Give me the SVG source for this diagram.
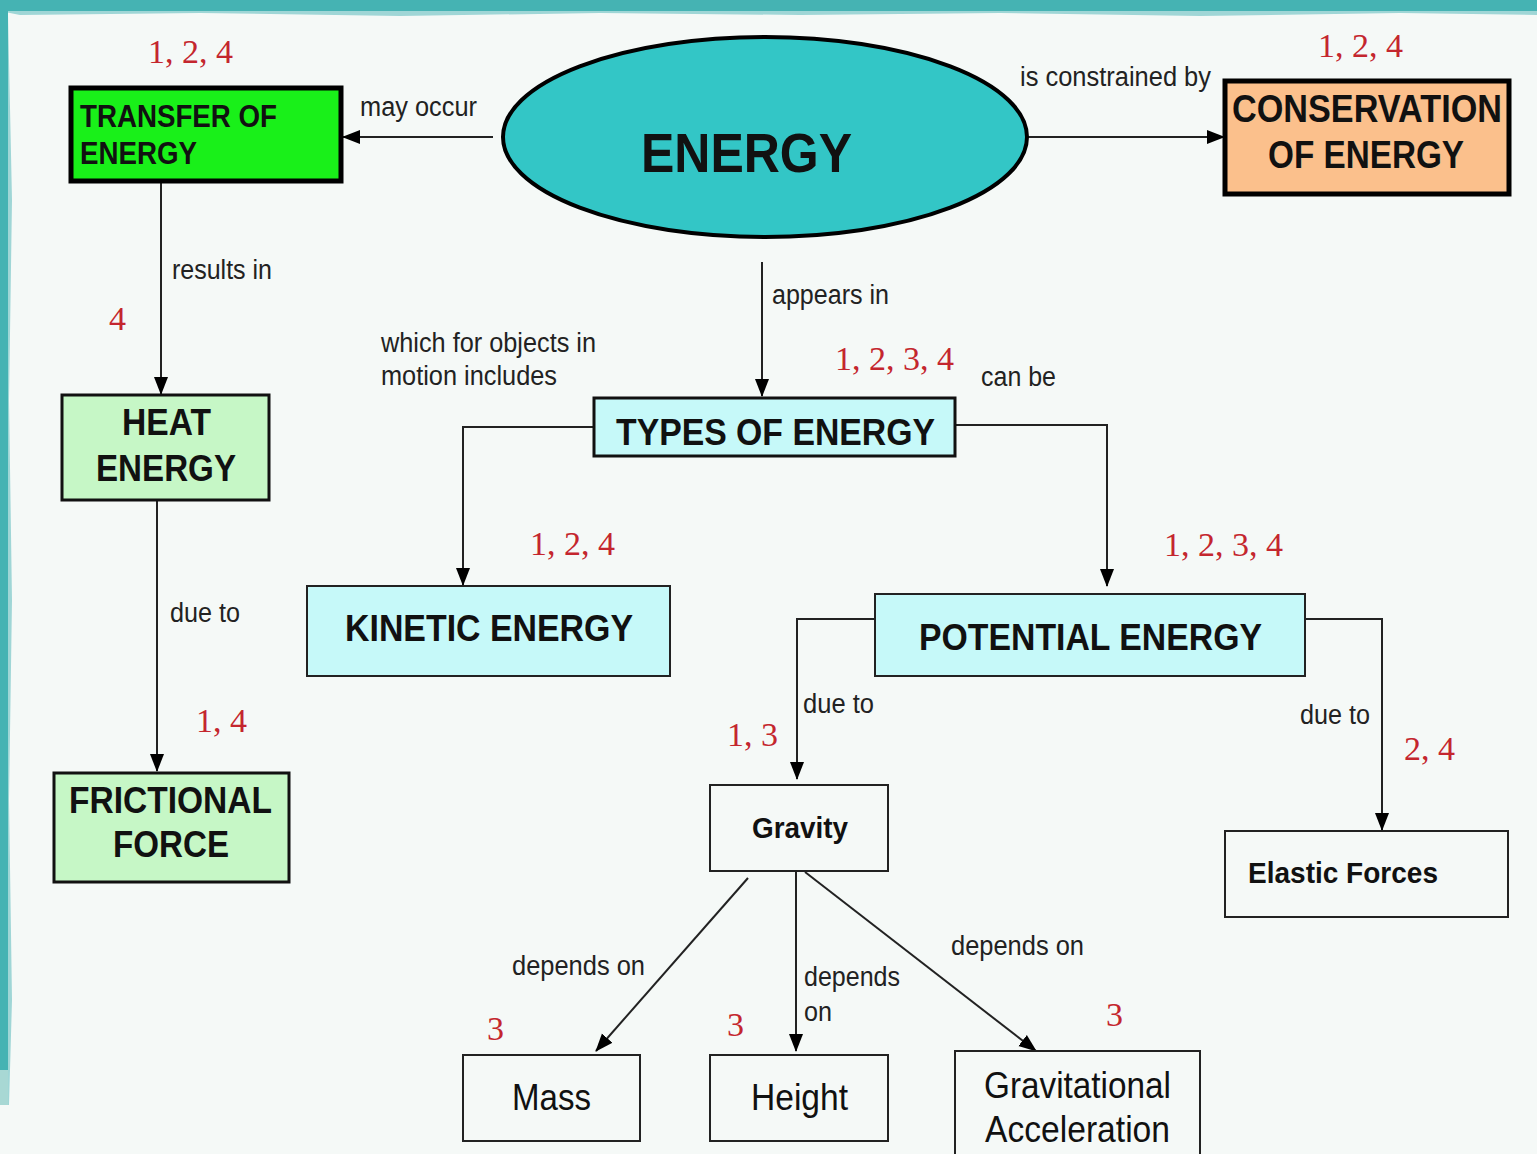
<svg xmlns="http://www.w3.org/2000/svg" width="1537" height="1154" viewBox="0 0 1537 1154">
<defs>
<style>
.lbl{font-family:"Liberation Sans",Arial,sans-serif;font-size:27px;fill:#222;}
.num{font-family:"Liberation Serif","Times New Roman",serif;font-size:34px;fill:#c4262e;}
.big{font-family:"Liberation Sans",Arial,sans-serif;font-weight:bold;fill:#111;}
.reg{font-family:"Liberation Sans",Arial,sans-serif;font-size:36px;fill:#111;}
.con{fill:none;stroke:#222;stroke-width:2;}
.box{stroke:#222;stroke-width:2;}
</style>
<marker id="arr" markerUnits="userSpaceOnUse" markerWidth="18" markerHeight="18" viewBox="0 0 18 18" refX="17" refY="9" orient="auto">
<path d="M0,2 L18,9 L0,16 Z" fill="#000"/>
</marker>
</defs>
<rect x="0" y="0" width="1537" height="1154" fill="#f5f9f7"/>
<rect x="0" y="0" width="1537" height="11" fill="#45b3b3"/>
<path d="M0,11 L1537,11 L1537,15 L1400,13 L1200,16 L1000,13 L800,15 L600,13 L400,16 L200,13 L20,15 Z" fill="#9fd6d6"/>
<rect x="0" y="0" width="8" height="1105" fill="#45b3b3"/>
<path d="M8,15 L12,200 L9,400 L12,600 L9,800 L12,1000 L9,1105 L8,1105 Z" fill="#9fd6d6"/>
<rect x="0" y="1070" width="8" height="35" fill="#a8d8d4"/>

<g id="connectors">
<line class="con" x1="493" y1="137" x2="343" y2="137" marker-end="url(#arr)"/>
<line class="con" x1="1028" y1="137" x2="1224" y2="137" marker-end="url(#arr)"/>
<line class="con" x1="161" y1="182" x2="161" y2="394" marker-end="url(#arr)"/>
<line class="con" x1="157" y1="500" x2="157" y2="771" marker-end="url(#arr)"/>
<line class="con" x1="762" y1="262" x2="762" y2="396" marker-end="url(#arr)"/>
<polyline class="con" points="594,427 463,427 463,585" marker-end="url(#arr)"/>
<polyline class="con" points="955,425 1107,425 1107,586" marker-end="url(#arr)"/>
<polyline class="con" points="875,619 797,619 797,779" marker-end="url(#arr)"/>
<polyline class="con" points="1305,619 1382,619 1382,830" marker-end="url(#arr)"/>
<line class="con" x1="748" y1="878" x2="596" y2="1051" marker-end="url(#arr)"/>
<line class="con" x1="796" y1="871" x2="796" y2="1051" marker-end="url(#arr)"/>
<line class="con" x1="805" y1="872" x2="1036" y2="1051" marker-end="url(#arr)"/>
</g>

<g id="labels">
<text class="lbl" x="360" y="116" textLength="117" lengthAdjust="spacingAndGlyphs">may occur</text>
<text class="lbl" x="1020" y="86" textLength="191" lengthAdjust="spacingAndGlyphs">is constrained by</text>
<text class="lbl" x="172" y="279" textLength="100" lengthAdjust="spacingAndGlyphs">results in</text>
<text class="lbl" x="170" y="622" textLength="70" lengthAdjust="spacingAndGlyphs">due to</text>
<text class="lbl" x="772" y="304" textLength="117" lengthAdjust="spacingAndGlyphs">appears in</text>
<text class="lbl" x="381" y="352" textLength="215" lengthAdjust="spacingAndGlyphs">which for objects in</text>
<text class="lbl" x="381" y="385" textLength="176" lengthAdjust="spacingAndGlyphs">motion includes</text>
<text class="lbl" x="981" y="386" textLength="75" lengthAdjust="spacingAndGlyphs">can be</text>
<text class="lbl" x="803" y="713" textLength="71" lengthAdjust="spacingAndGlyphs">due to</text>
<text class="lbl" x="1300" y="724" textLength="70" lengthAdjust="spacingAndGlyphs">due to</text>
<text class="lbl" x="512" y="975" textLength="133" lengthAdjust="spacingAndGlyphs">depends on</text>
<text class="lbl" x="804" y="986" textLength="96" lengthAdjust="spacingAndGlyphs">depends</text>
<text class="lbl" x="804" y="1021" textLength="28" lengthAdjust="spacingAndGlyphs">on</text>
<text class="lbl" x="951" y="955" textLength="133" lengthAdjust="spacingAndGlyphs">depends on</text>
<text class="num" x="148" y="63">1, 2, 4</text>
<text class="num" x="1318" y="57">1, 2, 4</text>
<text class="num" x="109" y="330">4</text>
<text class="num" x="196" y="732">1, 4</text>
<text class="num" x="835" y="370">1, 2, 3, 4</text>
<text class="num" x="530" y="555">1, 2, 4</text>
<text class="num" x="1164" y="556">1, 2, 3, 4</text>
<text class="num" x="727" y="746">1, 3</text>
<text class="num" x="1404" y="760">2, 4</text>
<text class="num" x="487" y="1040">3</text>
<text class="num" x="727" y="1036">3</text>
<text class="num" x="1106" y="1026">3</text>
</g>

<g id="energy">
<ellipse cx="765" cy="137" rx="262" ry="100" fill="#33c6c6" stroke="#000" stroke-width="4"/>
<text class="big" x="641" y="172" font-size="56" textLength="211" lengthAdjust="spacingAndGlyphs">ENERGY</text>
</g>

<g id="transfer">
<rect x="71" y="88" width="270" height="93" fill="#19f019" stroke="#000" stroke-width="5"/>
<text class="big" x="80" y="127" font-size="32" textLength="197" lengthAdjust="spacingAndGlyphs">TRANSFER OF</text>
<text class="big" x="80" y="164" font-size="32" textLength="117" lengthAdjust="spacingAndGlyphs">ENERGY</text>
</g>

<g id="conservation">
<rect x="1225" y="81" width="284" height="113" fill="#fbc08c" stroke="#000" stroke-width="5"/>
<text class="big" x="1232" y="122" font-size="38" textLength="270" lengthAdjust="spacingAndGlyphs">CONSERVATION</text>
<text class="big" x="1268" y="168" font-size="38" textLength="196" lengthAdjust="spacingAndGlyphs">OF ENERGY</text>
</g>

<g id="heat">
<rect x="62" y="395" width="207" height="105" fill="#c6f7c6" stroke="#111" stroke-width="3"/>
<text class="big" x="122" y="435" font-size="37" textLength="89" lengthAdjust="spacingAndGlyphs">HEAT</text>
<text class="big" x="96" y="481" font-size="37" textLength="140" lengthAdjust="spacingAndGlyphs">ENERGY</text>
</g>

<g id="frictional">
<rect x="54" y="773" width="235" height="109" fill="#c6f7c6" stroke="#111" stroke-width="3"/>
<text class="big" x="69" y="813" font-size="37" textLength="203" lengthAdjust="spacingAndGlyphs">FRICTIONAL</text>
<text class="big" x="113" y="857" font-size="37" textLength="116" lengthAdjust="spacingAndGlyphs">FORCE</text>
</g>

<g id="types">
<rect x="594" y="398" width="361" height="58" fill="#c6f9f9" stroke="#111" stroke-width="3"/>
<text class="big" x="616" y="445" font-size="37" textLength="319" lengthAdjust="spacingAndGlyphs">TYPES OF ENERGY</text>
</g>

<g id="kinetic">
<rect x="307" y="586" width="363" height="90" fill="#c6f9f9" class="box"/>
<text class="big" x="345" y="641" font-size="37" textLength="288" lengthAdjust="spacingAndGlyphs">KINETIC ENERGY</text>
</g>

<g id="potential">
<rect x="875" y="594" width="430" height="82" fill="#c6f9f9" class="box"/>
<text class="big" x="919" y="650" font-size="37" textLength="343" lengthAdjust="spacingAndGlyphs">POTENTIAL ENERGY</text>
</g>

<g id="gravity">
<rect x="710" y="785" width="178" height="86" fill="none" class="box"/>
<text class="big" x="752" y="838" font-size="29" textLength="96" lengthAdjust="spacingAndGlyphs">Gravity</text>
</g>

<g id="elastic">
<rect x="1225" y="831" width="283" height="86" fill="none" class="box"/>
<text class="big" x="1248" y="883" font-size="29" textLength="190" lengthAdjust="spacingAndGlyphs">Elastic Forces</text>
</g>

<g id="mass">
<rect x="463" y="1055" width="177" height="86" fill="none" class="box"/>
<text class="reg" x="512" y="1110" textLength="79" lengthAdjust="spacingAndGlyphs">Mass</text>
</g>

<g id="height">
<rect x="710" y="1055" width="178" height="86" fill="none" class="box"/>
<text class="reg" x="751" y="1110" textLength="97" lengthAdjust="spacingAndGlyphs">Height</text>
</g>

<g id="gravaccel">
<rect x="955" y="1051" width="245" height="110" fill="none" class="box"/>
<text class="reg" x="984" y="1098" textLength="187" lengthAdjust="spacingAndGlyphs">Gravitational</text>
<text class="reg" x="985" y="1142" textLength="185" lengthAdjust="spacingAndGlyphs">Acceleration</text>
</g>
</svg>
